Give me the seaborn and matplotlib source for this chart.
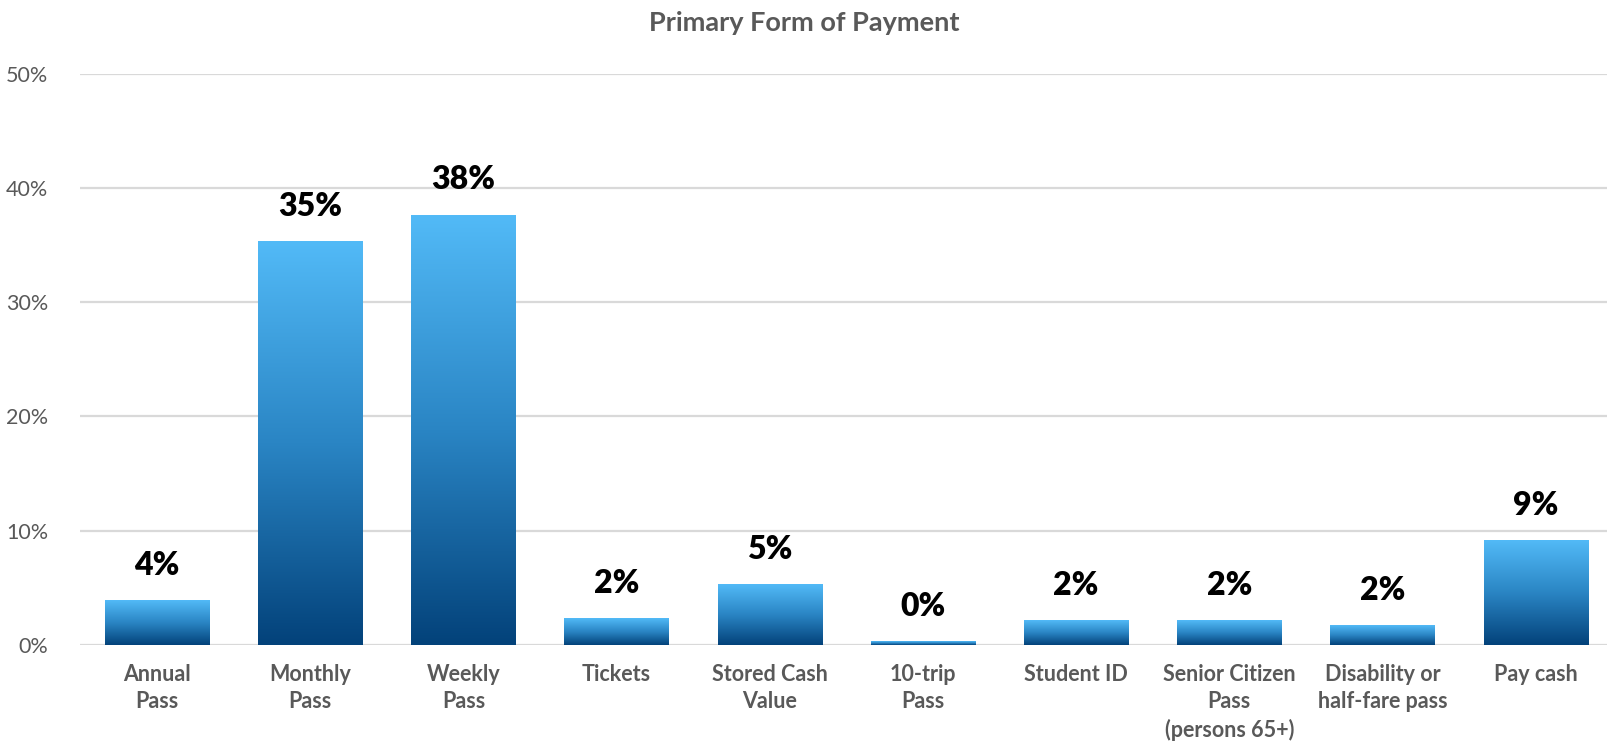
import numpy as np
import matplotlib
matplotlib.use("Agg")
import matplotlib.pyplot as plt
from matplotlib.colors import LinearSegmentedColormap
from matplotlib.ticker import PercentFormatter
import seaborn as sns

# data
categories = ["Annual\nPass", "Monthly\nPass", "Weekly\nPass", "Tickets",
              "Stored Cash\nValue", "10-trip\nPass", "Student ID",
              "Senior Citizen\nPass\n(persons 65+)", "Disability or\nhalf-fare pass",
              "Pay cash"]
shares = [0.039, 0.353, 0.376, 0.023, 0.053, 0.003, 0.021, 0.021, 0.017, 0.091]
y_ticks = [0, 0.1, 0.2, 0.3, 0.4, 0.5]

sns.set_theme(style="white")
plt.rcParams['font.family'] = ['Lato', 'DejaVu Sans']

grey = "#595959"
blue_grad = LinearSegmentedColormap.from_list("bluegrad", ["#03427a", "#2a85c4", "#52baf7"])

fig = plt.figure(figsize=(16.08, 7.48), dpi=100)
ax = fig.add_axes([0.05, 0.1377, 0.9527, 0.764])

sns.barplot(x=categories, y=shares, ax=ax, width=0.68, color="#2a85c4")

# replace flat bars with a vertical gradient
grad = np.linspace(0, 1, 256).reshape(-1, 1)
for bar in ax.patches:
    x0, y0 = bar.get_x(), bar.get_y()
    w, h = bar.get_width(), bar.get_height()
    ax.imshow(grad, extent=[x0, x0 + w, y0, y0 + h], origin="lower",
              aspect="auto", cmap=blue_grad, zorder=3)
    bar.set_alpha(0)

ax.bar_label(ax.containers[0], labels=[f"{v:.0%}" for v in shares],
             padding=15, fontsize=23, fontweight="heavy", color="black")

ax.set_xlim(-0.5, len(categories) - 0.5)
ax.set_ylim(0, 0.5)
ax.set_yticks(y_ticks)
ax.yaxis.set_major_formatter(PercentFormatter(1.0, decimals=0))
ax.grid(axis="y", color="#d9d9d9", linewidth=1.6, zorder=0)
ax.set_axisbelow(True)
sns.despine(ax=ax, left=True, bottom=True)

ax.tick_params(axis="y", length=0, pad=23, labelsize=15.5, labelcolor=grey)
ax.tick_params(axis="x", length=0, pad=14, labelsize=15.5, labelcolor=grey)
for lbl in ax.get_xticklabels():
    lbl.set_fontweight("bold")
    lbl.set_linespacing(1.35)

fig.suptitle("Primary Form of Payment", y=0.985, va="top", fontsize=19.5,
             fontweight="bold", color=grey)

fig.savefig("out.png", dpi=100)
